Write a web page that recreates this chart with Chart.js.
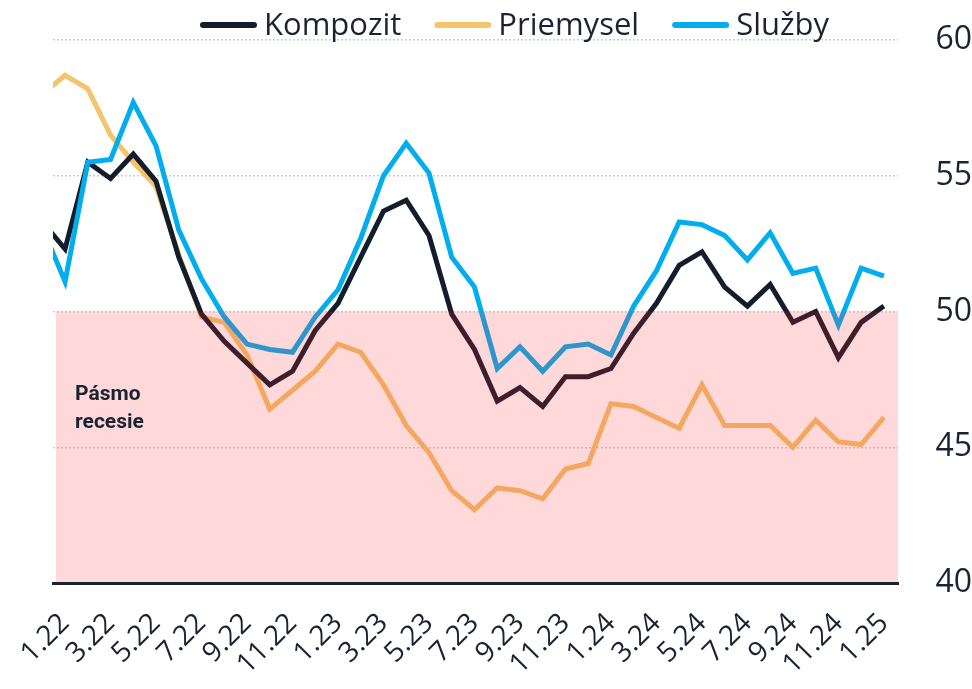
<!DOCTYPE html>
<html>
<head>
<meta charset="utf-8">
<script src="https://cdn.jsdelivr.net/npm/chart.js@4.4.1/dist/chart.umd.min.js"></script>
<style>
  html, body { margin: 0; padding: 0; background: #fff; }
  #wrap { width: 972px; height: 689px; }
</style>
</head>
<body>
<div id="wrap"><canvas id="canvas"></canvas></div>
<script>
// mesiace (prvý bod 12.21 je orezaný na ľavom okraji)
const months = ['12.21',
  '1.22','2.22','3.22','4.22','5.22','6.22','7.22','8.22','9.22','10.22','11.22','12.22',
  '1.23','2.23','3.23','4.23','5.23','6.23','7.23','8.23','9.23','10.23','11.23','12.23',
  '1.24','2.24','3.24','4.24','5.24','6.24','7.24','8.24','9.24','10.24','11.24','12.24',
  '1.25'];
const kompozit = [53.3, 52.3, 55.5, 54.9, 55.8, 54.8, 52.0, 49.9, 48.9, 48.1, 47.3, 47.8, 49.3,
  50.3, 52.0, 53.7, 54.1, 52.8, 49.9, 48.6, 46.7, 47.2, 46.5, 47.6, 47.6,
  47.9, 49.2, 50.3, 51.7, 52.2, 50.9, 50.2, 51.0, 49.6, 50.0, 48.3, 49.6, 50.2];
const priemysel = [58.0, 58.7, 58.2, 56.5, 55.5, 54.6, 52.1, 49.8, 49.6, 48.4, 46.4, 47.1, 47.8,
  48.8, 48.5, 47.3, 45.8, 44.8, 43.4, 42.7, 43.5, 43.4, 43.1, 44.2, 44.4,
  46.6, 46.5, 46.1, 45.7, 47.3, 45.8, 45.8, 45.8, 45.0, 46.0, 45.2, 45.1, 46.1];
const sluzby = [53.1, 51.1, 55.5, 55.6, 57.7, 56.1, 53.0, 51.2, 49.8, 48.8, 48.6, 48.5, 49.8,
  50.8, 52.7, 55.0, 56.2, 55.1, 52.0, 50.9, 47.9, 48.7, 47.8, 48.7, 48.8,
  48.4, 50.2, 51.5, 53.3, 53.2, 52.8, 51.9, 52.9, 51.4, 51.6, 49.5, 51.6, 51.3];
const tickLabels = ['1.22','3.22','5.22','7.22','9.22','11.22','1.23','3.23','5.23','7.23',
  '9.23','11.23','1.24','3.24','5.24','7.24','9.24','11.24','1.25'];
const yTicks = [40, 45, 50, 55, 60];

const textColor = '#1b2333';
const toPoints = (arr) => arr.map((v, i) => ({x: i, y: v}));

const recessionBand = {
  id: 'recessionBand',
  afterDatasetsDraw(chart) {
    const {ctx, chartArea, scales: {x, y}} = chart;
    const top = y.getPixelForValue(50);
    const bottom = y.getPixelForValue(40);
    ctx.save();
    ctx.fillStyle = 'rgba(255,40,50,0.18)';
    ctx.fillRect(chartArea.left + 3, top, chartArea.right - chartArea.left - 3, bottom - top - 1);
    ctx.fillStyle = textColor;
    ctx.font = 'bold 21px Roboto';
    ctx.textBaseline = 'alphabetic';
    ctx.fillText('Pásmo', x.getPixelForValue(1.44), y.getPixelForValue(46.74));
    ctx.fillText('recesie', x.getPixelForValue(1.44), y.getPixelForValue(45.71));
    ctx.restore();
  }
};

const topLegend = {
  id: 'topLegend',
  afterDraw(chart) {
    const {ctx} = chart;
    const items = chart.data.datasets;
    ctx.save();
    ctx.font = '31px "Open Sans"';
    const lineLen = 51, gapText = 7, gapItem = 36;
    const widths = items.map(d => lineLen + 3 + gapText + ctx.measureText(d.label).width);
    const total = widths.reduce((a, b) => a + b, 0) + gapItem * (items.length - 1);
    let cx = 513 - total / 2 + 3;
    const cy = 25;
    items.forEach((d, i) => {
      ctx.strokeStyle = d.borderColor;
      ctx.lineWidth = 6;
      ctx.lineCap = 'round';
      ctx.beginPath();
      ctx.moveTo(cx, cy);
      ctx.lineTo(cx + lineLen, cy);
      ctx.stroke();
      ctx.fillStyle = textColor;
      ctx.textBaseline = 'alphabetic';
      ctx.fillText(d.label, cx + lineLen + 3 + gapText, 35);
      cx += widths[i] + gapItem;
    });
    ctx.restore();
  }
};

new Chart(document.getElementById('canvas'), {
  type: 'line',
  data: {
    datasets: [
      {label: 'Kompozit', data: toPoints(kompozit), borderColor: '#141d2b', order: 1},
      {label: 'Priemysel', data: toPoints(priemysel), borderColor: '#f2c46c', order: 2},
      {label: 'Služby', data: toPoints(sluzby), borderColor: '#00aeef', order: 0}
    ]
  },
  options: {
    responsive: true,
    maintainAspectRatio: false,
    animation: false,
    datasets: {
      line: {borderWidth: 5, pointRadius: 0, tension: 0, clip: 0, fill: false}
    },
    layout: {padding: {top: 40, left: 53, right: 0, bottom: 0}},
    plugins: {legend: {display: false}, tooltip: {enabled: false}},
    scales: {
      x: {
        type: 'linear',
        min: 0.47,
        max: 37.62,
        grid: {display: false, drawTicks: false},
        border: {display: true, color: textColor, width: 3},
        afterBuildTicks(axis) {
          axis.ticks = tickLabels.map(l => ({value: months.indexOf(l)}));
        },
        afterFit(axis) { axis.height = 106; },
        ticks: {
          autoSkip: false,
          minRotation: 45,
          maxRotation: 45,
          padding: 24,
          color: textColor,
          font: {family: 'Open Sans', size: 28},
          callback: (v) => months[v]
        }
      },
      y: {
        position: 'right',
        min: 40,
        max: 60,
        afterBuildTicks(axis) {
          axis.ticks = yTicks.map(v => ({value: v}));
        },
        afterFit(axis) {
          axis.width = 74;
          axis.paddingTop = 0;
          axis.paddingBottom = 0;
        },
        grid: {color: '#c6d0e2', lineWidth: 1.5, drawTicks: false},
        border: {display: false, dash: [2, 2]},
        ticks: {
          padding: 32,
          crossAlign: 'far',
          color: textColor,
          font: {family: 'Open Sans', size: 32}
        }
      }
    }
  },
  plugins: [recessionBand, topLegend]
});
</script>
</body>
</html>
